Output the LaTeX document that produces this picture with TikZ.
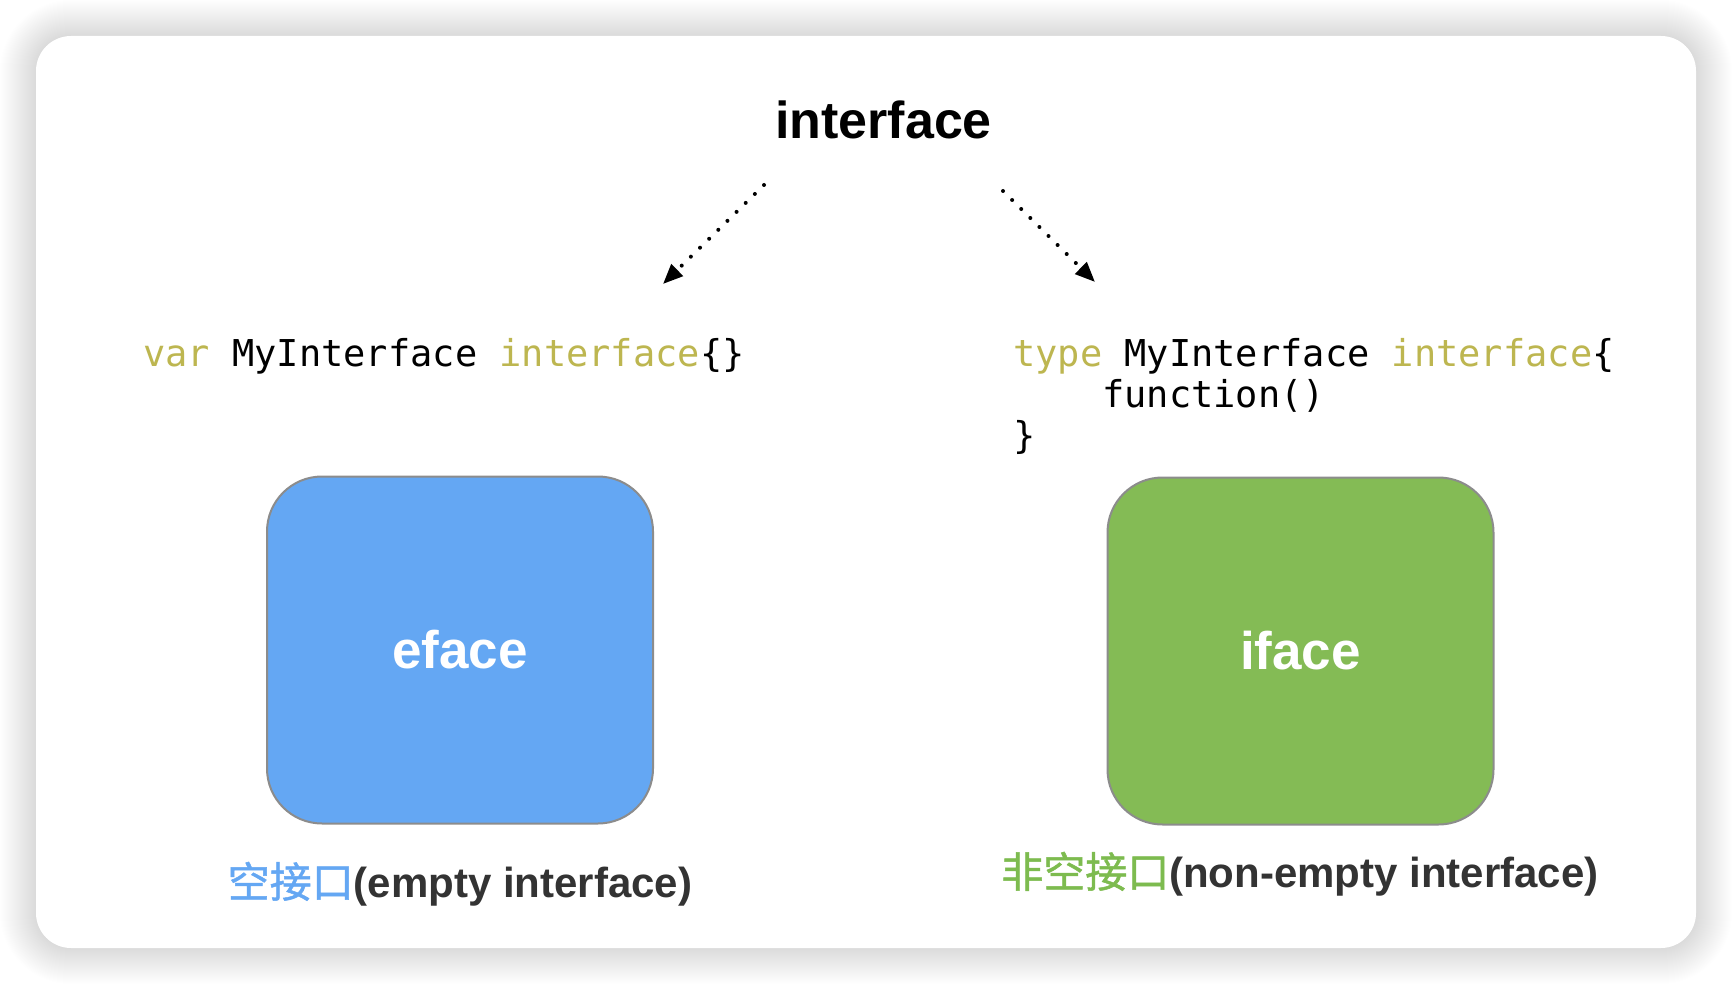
\documentclass[tikz,border=0pt]{standalone}
\usepackage{fontspec}
\setmainfont{Liberation Sans}
\newfontfamily\cjkfont{Noto Sans CJK SC}[AutoFakeBold=1.2]
\newfontfamily\codefont{DejaVu Sans Mono}
\usetikzlibrary{arrows.meta}
\definecolor{kw}{HTML}{BDB650}
\definecolor{bluefill}{HTML}{64A7F3}
\definecolor{greenfill}{HTML}{84BB55}
\definecolor{boxline}{HTML}{8C8C8C}
\definecolor{labeldark}{HTML}{333333}
\definecolor{cjkblue}{HTML}{64A7F3}
\definecolor{cjkgreen}{HTML}{7DBB4F}
\tikzset{
  code/.style={font=\codefont\fontsize{37}{41}\selectfont, inner sep=0pt, anchor=base west},
  bigbox/.style={draw=boxline, line width=2pt, rounded corners=55pt, minimum width=386pt,
    minimum height=347pt, text=white, font=\bfseries\fontsize{53}{60}\selectfont, inner sep=0pt},
  lbl/.style={font=\bfseries\fontsize{42}{48}\selectfont, text=labeldark, inner sep=0pt},
  conn/.style={line width=4pt, dash pattern=on 0pt off 12.8pt, line cap=round,
    -{Triangle[length=20pt,width=16pt]}}
}
\begin{document}
\begin{tikzpicture}[x=1pt,y=-1pt]
\useasboundingbox (0,0) rectangle (1732,984);
\fill[white] (0,0) rectangle (1732,984);
% shadow
\foreach \i in {1,...,36}{
  \pgfmathsetmacro\rr{35+\i}
  \fill[black, opacity=0.0055, rounded corners=\rr pt] (36-\i,36-\i) rectangle (1696+\i,948+\i);
}
\fill[white, rounded corners=35pt] (36,36) rectangle (1696,948);

% title
\node[font=\bfseries\fontsize{52}{60}\selectfont, anchor=base, inner sep=0pt] (title) at (883.5,139) {interface};

% connectors
\coordinate (la) at (764,185);
\coordinate (lb) at (663,284);
\coordinate (ra) at (1003,191);
\coordinate (rb) at (1095,282);
\draw[conn] (la) -- (lb);
\draw[conn] (ra) -- (rb);

% code
\node[code] (codeL) at (143,366) {{\color{kw}var} MyInterface {\color{kw}interface}\{\}};
\node[code] (codeR1) at (1013,366) {{\color{kw}type} MyInterface {\color{kw}interface}\{};
\node[code] (codeR2) at (1102,407) {function()};
\node[code] (codeR3) at (1013,448) {\}};

% boxes
\node[bigbox, fill=bluefill] (eface) at (460,650) {eface};
\node[bigbox, fill=greenfill] (iface) at (1300.5,651) {iface};

% labels
\node[lbl] (lblL) at (460,884) {{\cjkfont\color{cjkblue}空接口}(empty interface)};
\node[lbl] (lblR) at (1300,874) {{\cjkfont\color{cjkgreen}非空接口}(non-empty interface)};
\end{tikzpicture}
\end{document}
